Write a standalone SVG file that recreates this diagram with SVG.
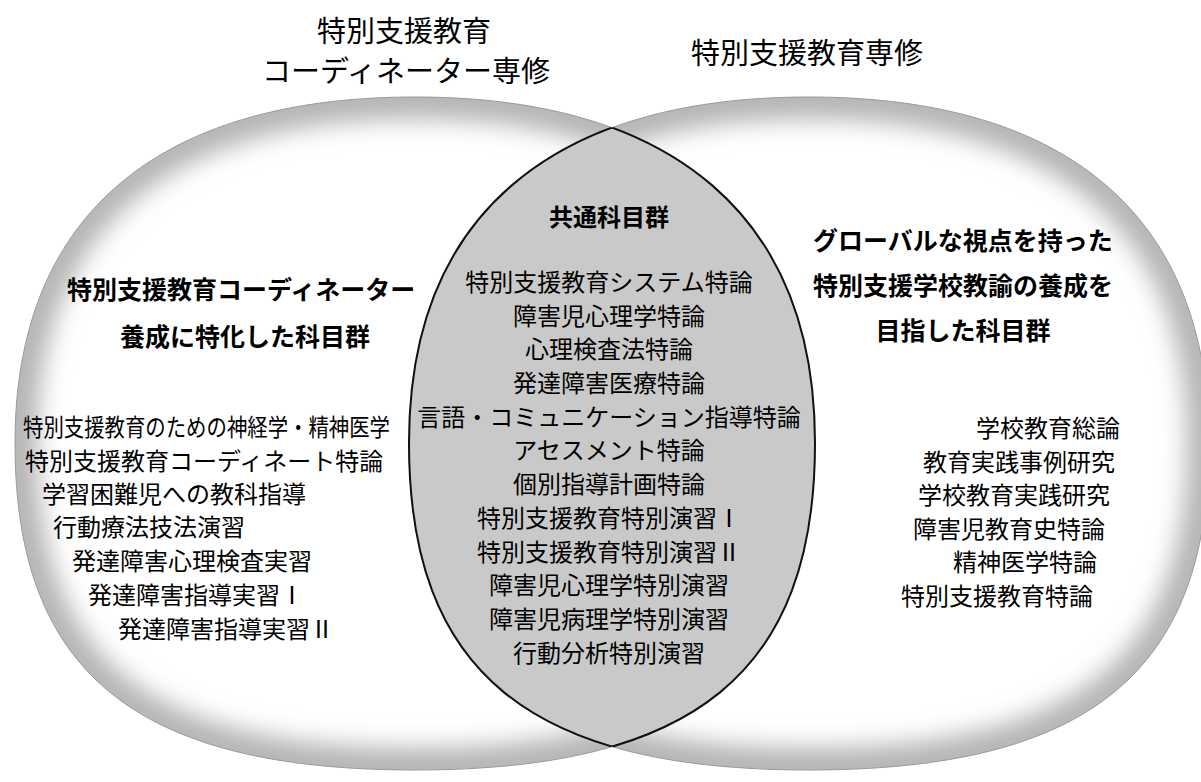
<svg xmlns="http://www.w3.org/2000/svg" xmlns:xlink="http://www.w3.org/1999/xlink" width="1201" height="782" viewBox="0 0 1201 782">
<style>
text{font-family:"Noto Sans CJK JP","Noto Sans CJK SC",sans-serif;fill:#000}
.title{font-size:29px;font-weight:400;text-anchor:middle}
.head{font-size:25px;font-weight:700}
.item{font-size:24px;font-weight:400}
.mid{text-anchor:middle}
.end{text-anchor:end}
.outline{fill:none;stroke:#9a9a9a;stroke-width:1}
.shade{fill:none;stroke:#b4b4b4;stroke-width:44}
.lensline{fill:none;stroke:#111;stroke-width:2}
</style>
<defs>
<path id="L" d="M415,97 C675,97 815,218 815,443 C815,672 695,770 415,770 C135,770 15,672 15,443 C15,218 155,97 415,97 Z"/>
<path id="R" d="M809,97 C1069,97 1209,218 1209,443 C1209,672 1089,770 809,770 C529,770 409,672 409,443 C409,218 549,97 809,97 Z"/>
<clipPath id="clipL"><use xlink:href="#L"/></clipPath>
<clipPath id="clipR"><use xlink:href="#R"/></clipPath>
<filter id="blur" x="-20%" y="-20%" width="140%" height="140%"><feGaussianBlur stdDeviation="12"/></filter>
</defs>
<rect width="1201" height="782" fill="#fff"/>

<g id="left-set">
<use xlink:href="#L" fill="#fff"/>
<g clip-path="url(#clipL)"><use xlink:href="#L" class="shade" filter="url(#blur)"/></g>
<use xlink:href="#L" class="outline"/>
</g>

<g id="right-set">
<use xlink:href="#R" fill="#fff"/>
<g clip-path="url(#clipR)"><use xlink:href="#R" class="shade" filter="url(#blur)"/></g>
<use xlink:href="#R" class="outline"/>
</g>

<g id="common-lens">
<g clip-path="url(#clipL)"><use xlink:href="#R" fill="#c9c9c9"/></g>
<g clip-path="url(#clipL)"><use xlink:href="#R" class="lensline"/></g>
<g clip-path="url(#clipR)"><use xlink:href="#L" class="lensline"/></g>
</g>

<g id="connectors"/>

<g id="title-left">
<text class="title" x="404" y="42">特別支援教育</text>
<text class="title" x="406" y="82">コーディネーター専修</text>
</g>
<g id="title-right">
<text class="title" x="807" y="64">特別支援教育専修</text>
</g>

<g id="left-subjects">
<text class="head" x="67" y="299">特別支援教育コーディネーター</text>
<text class="head mid" x="245" y="346">養成に特化した科目群</text>
<text class="item" x="23" y="436" textLength="367" lengthAdjust="spacingAndGlyphs">特別支援教育のための神経学・精神医学</text>
<text class="item" x="25" y="470">特別支援教育コーディネート特論</text>
<text class="item" x="42" y="503">学習困難児への教科指導</text>
<text class="item" x="53" y="536">行動療法技法演習</text>
<text class="item" x="72" y="570">発達障害心理検査実習</text>
<text class="item" x="88" y="604">発達障害指導実習Ⅰ</text>
<text class="item" x="118" y="638">発達障害指導実習Ⅱ</text>
</g>

<g id="common-subjects">
<text class="head mid" x="609" y="226" style="font-size:24px">共通科目群</text>
<text class="item mid" x="609" y="291">特別支援教育システム特論</text>
<text class="item mid" x="609" y="325">障害児心理学特論</text>
<text class="item mid" x="609" y="358">心理検査法特論</text>
<text class="item mid" x="609" y="392">発達障害医療特論</text>
<text class="item mid" x="609" y="426">言語・コミュニケーション指導特論</text>
<text class="item mid" x="609" y="459">アセスメント特論</text>
<text class="item mid" x="609" y="493">個別指導計画特論</text>
<text class="item mid" x="609" y="527">特別支援教育特別演習Ⅰ</text>
<text class="item mid" x="609" y="561">特別支援教育特別演習Ⅱ</text>
<text class="item mid" x="609" y="594">障害児心理学特別演習</text>
<text class="item mid" x="609" y="628">障害児病理学特別演習</text>
<text class="item mid" x="609" y="662">行動分析特別演習</text>
</g>

<g id="right-subjects">
<text class="head mid" x="963" y="250">グローバルな視点を持った</text>
<text class="head mid" x="963" y="295">特別支援学校教諭の養成を</text>
<text class="head mid" x="963" y="340">目指した科目群</text>
<text class="item end" x="1120" y="437">学校教育総論</text>
<text class="item end" x="1115" y="471">教育実践事例研究</text>
<text class="item end" x="1110" y="504">学校教育実践研究</text>
<text class="item end" x="1105" y="538">障害児教育史特論</text>
<text class="item end" x="1097" y="571">精神医学特論</text>
<text class="item end" x="1093" y="605">特別支援教育特論</text>
</g>
</svg>
